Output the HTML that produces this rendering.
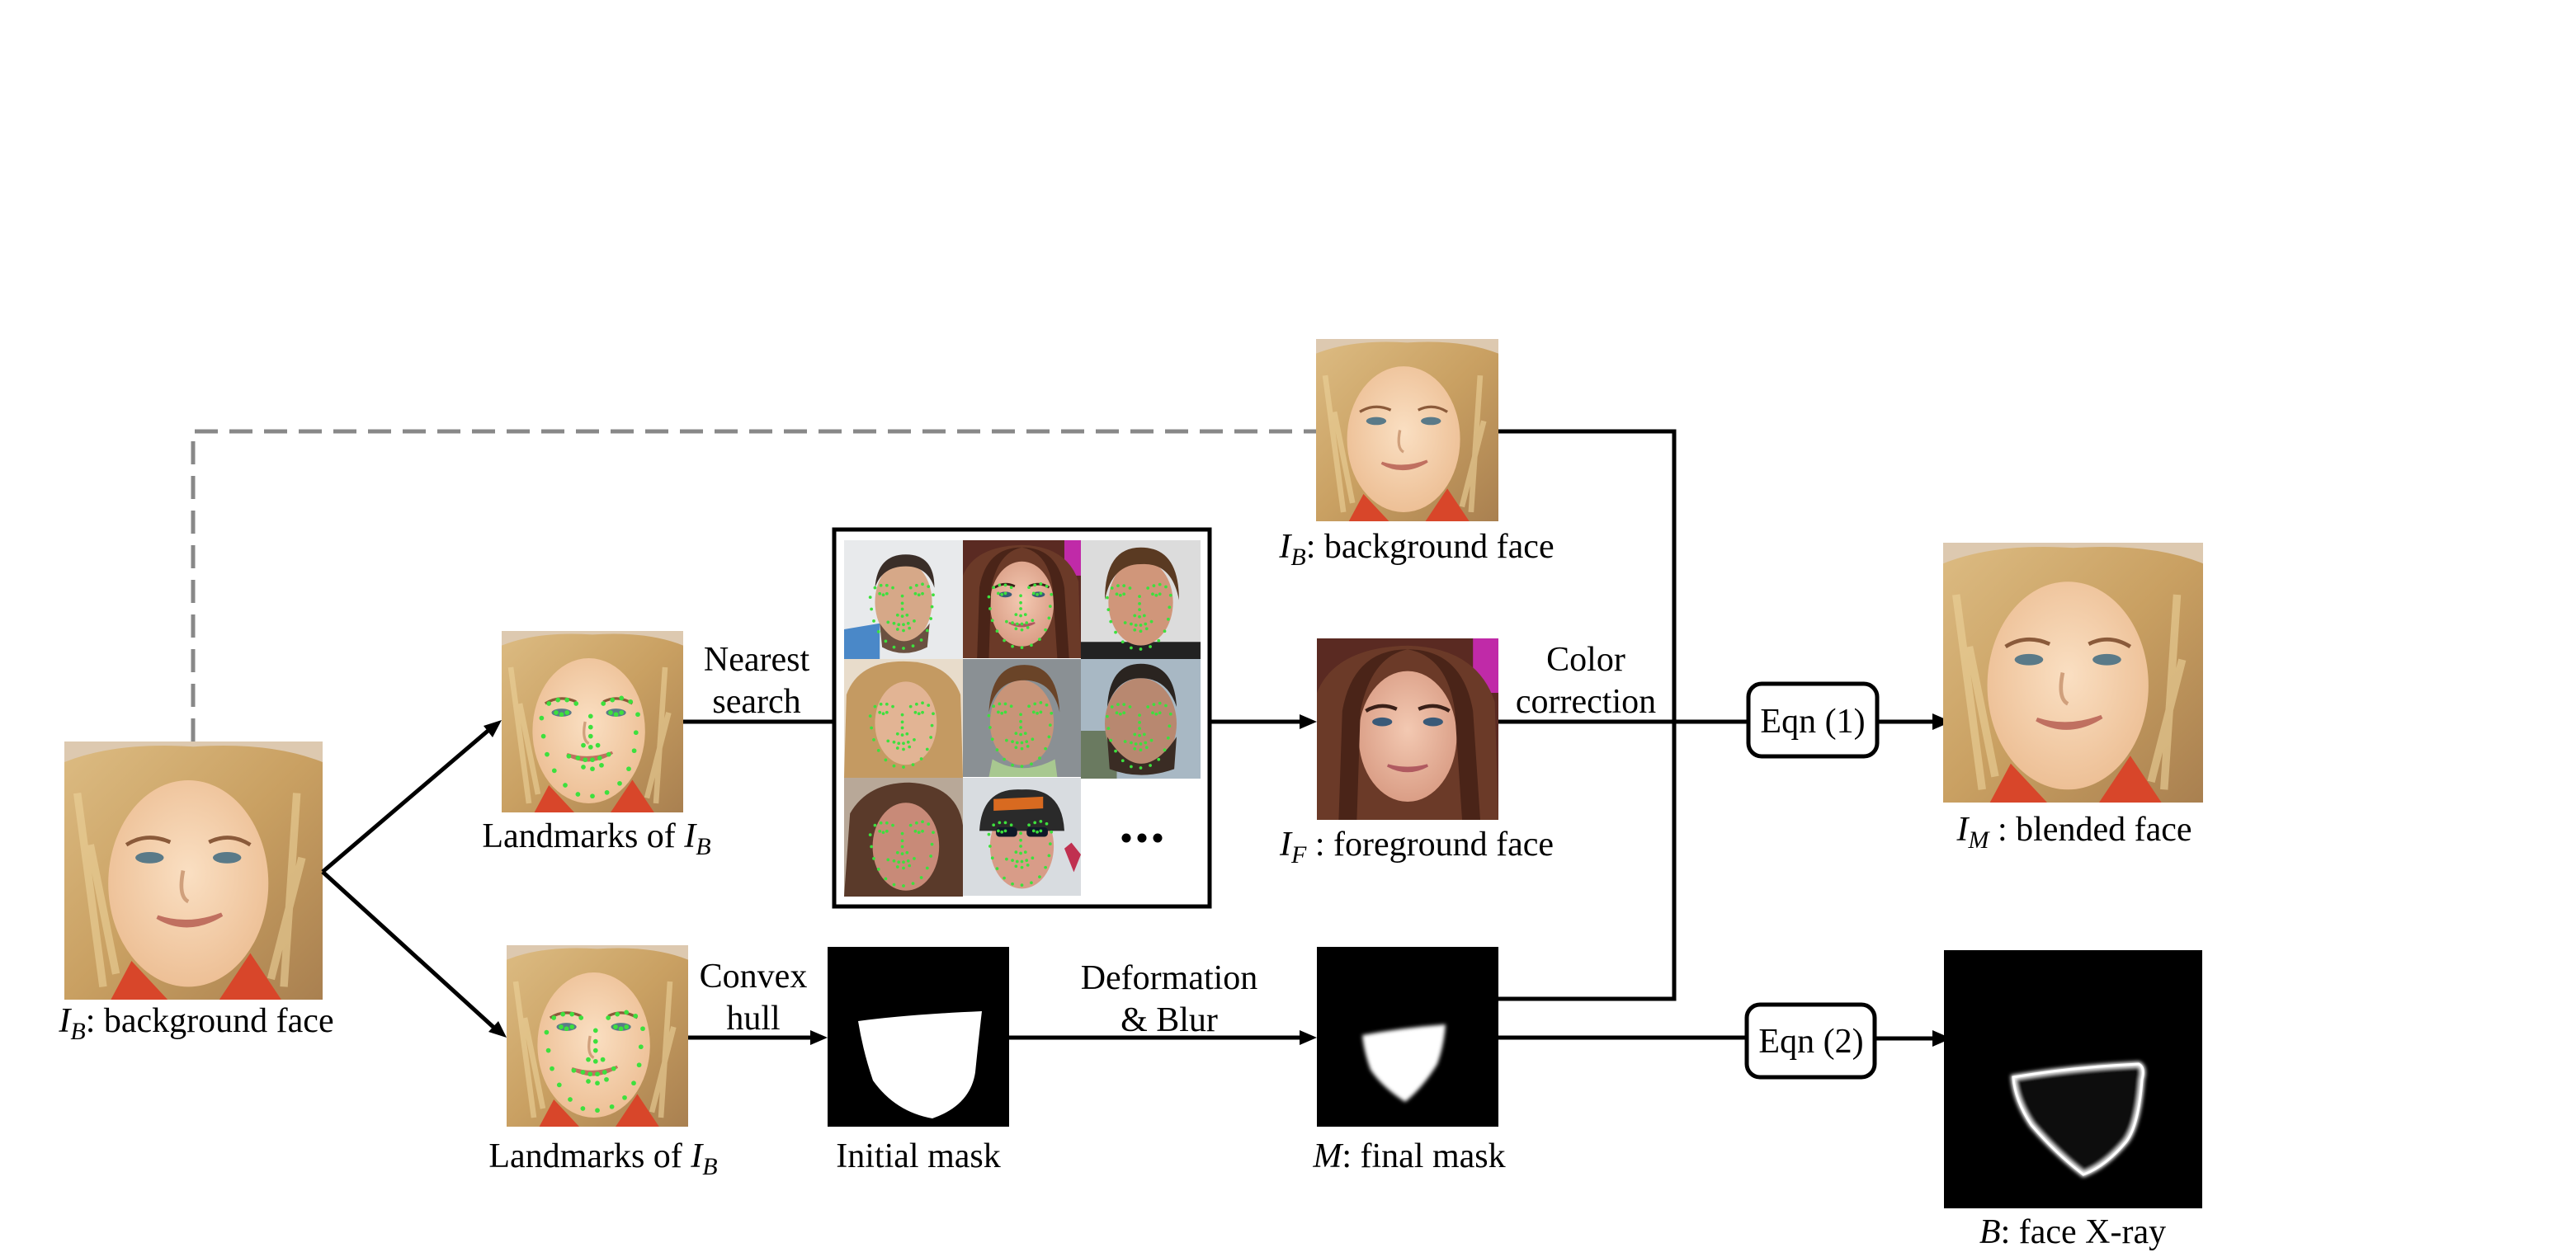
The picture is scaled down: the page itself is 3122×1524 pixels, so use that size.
<!DOCTYPE html>
<html><head><meta charset="utf-8"><style>
html,body{margin:0;padding:0;background:#fff;}
svg{display:block;}
svg text{font-family:"Liberation Serif","Times New Roman",serif !important;fill:#000;}
</style></head><body>
<svg width="3122" height="1524" viewBox="0 0 3122 1524" xmlns="http://www.w3.org/2000/svg" font-family="Liberation Serif, serif">
<defs>
<linearGradient id="hairB" x1="0" y1="0" x2="1" y2="1">
<stop offset="0" stop-color="#dcbb82"/><stop offset="0.5" stop-color="#c9a062"/><stop offset="1" stop-color="#a98050"/></linearGradient>
<radialGradient id="skinB" cx="0.5" cy="0.45" r="0.6"><stop offset="0" stop-color="#fadfc2"/><stop offset="1" stop-color="#ecbd92"/></radialGradient>
<radialGradient id="skinF" cx="0.5" cy="0.45" r="0.6"><stop offset="0" stop-color="#f3c9b2"/><stop offset="1" stop-color="#d89a82"/></radialGradient>
<filter id="blur3"><feGaussianBlur stdDeviation="2.5"/></filter>
<g id="faceB">
<rect width="100" height="100" fill="#ddc9b0"/>
<path d="M0 8 Q20 0 50 2 Q80 0 100 8 L100 100 L0 100 Z" fill="url(#hairB)"/>
<path d="M5 20 L15 95 M90 20 L85 95 M10 40 L20 90 M92 45 L80 92" stroke="#ecd29a" stroke-width="3" opacity="0.6"/>
<ellipse cx="48" cy="55" rx="31" ry="40" fill="url(#skinB)"/>
<path d="M18 100 L26 85 L40 100 Z M60 100 L72 82 L84 100 Z" fill="#d8462a"/>
<path d="M24 40 Q32 35 41 39 M56 39 Q64 35 72 40" stroke="#8a5a3a" stroke-width="1.5" fill="none"/>
<ellipse cx="33" cy="45" rx="5.5" ry="2.2" fill="#5a7a88"/>
<ellipse cx="63" cy="45" rx="5.5" ry="2.2" fill="#5a7a88"/>
<path d="M36 68 Q48 75 61 67 Q48 72 36 68Z" fill="#d88878" stroke="#c07060" stroke-width="1.5"/>
<path d="M46 50 Q44 60 48 62" stroke="#d0a07c" stroke-width="1.5" fill="none"/>
</g>
<g id="dots" fill="#3de03d">
<circle cx="22" cy="48" r="1.3"/><circle cx="23" cy="58" r="1.3"/><circle cx="25" cy="68" r="1.3"/><circle cx="29" cy="77" r="1.3"/><circle cx="35" cy="85" r="1.3"/><circle cx="42" cy="90" r="1.3"/><circle cx="50" cy="91" r="1.3"/><circle cx="58" cy="89" r="1.3"/><circle cx="65" cy="84" r="1.3"/><circle cx="70" cy="76" r="1.3"/><circle cx="73" cy="66" r="1.3"/><circle cx="74" cy="56" r="1.3"/><circle cx="75" cy="46" r="1.3"/>
<circle cx="26" cy="40" r="1.3"/><circle cx="31" cy="38" r="1.3"/><circle cx="36" cy="38" r="1.3"/><circle cx="41" cy="40" r="1.3"/><circle cx="56" cy="40" r="1.3"/><circle cx="61" cy="38" r="1.3"/><circle cx="66" cy="37" r="1.3"/><circle cx="71" cy="39" r="1.3"/>
<circle cx="30" cy="45" r="1.3"/><circle cx="33" cy="46" r="1.3"/><circle cx="36" cy="45" r="1.3"/><circle cx="60" cy="45" r="1.3"/><circle cx="63" cy="46" r="1.3"/><circle cx="66" cy="45" r="1.3"/>
<circle cx="49" cy="47" r="1.3"/><circle cx="49" cy="53" r="1.3"/><circle cx="49" cy="58" r="1.3"/><circle cx="45" cy="63" r="1.3"/><circle cx="49" cy="64" r="1.3"/><circle cx="53" cy="63" r="1.3"/>
<circle cx="37" cy="69" r="1.3"/><circle cx="42" cy="70" r="1.3"/><circle cx="46" cy="71" r="1.3"/><circle cx="50" cy="71" r="1.3"/><circle cx="54" cy="70" r="1.3"/><circle cx="59" cy="68" r="1.3"/><circle cx="45" cy="75" r="1.3"/><circle cx="50" cy="76" r="1.3"/><circle cx="55" cy="74" r="1.3"/>
</g>
<g id="faceF">
<rect width="100" height="100" fill="#5a2a22"/>
<rect x="86" y="0" width="14" height="30" fill="#c02aa8"/>
<path d="M0 100 L0 30 Q10 5 50 4 Q88 5 98 35 L100 100 Z" fill="#6b3a28"/>
<ellipse cx="50" cy="54" rx="27" ry="36" fill="url(#skinF)"/>
<path d="M50 6 Q30 10 24 40 L22 100 L12 100 L14 40 Q20 6 50 6Z" fill="#4a2418"/>
<path d="M50 6 Q72 10 76 40 L80 100 L90 100 L86 40 Q80 6 50 6Z" fill="#4a2418"/>
<path d="M27 40 Q35 35 44 39 M56 39 Q65 35 73 40" stroke="#3a2018" stroke-width="2" fill="none"/>
<ellipse cx="36" cy="46" rx="5.5" ry="2.4" fill="#3a5a78"/>
<ellipse cx="64" cy="46" rx="5.5" ry="2.4" fill="#3a5a78"/>
<path d="M39 70 Q50 76 61 70 Q50 73 39 70Z" fill="#c06a70" stroke="#b05a60" stroke-width="1.5"/>
</g>
</defs>

<path d="M234 899 L234 523 L1595 523" fill="none" stroke="#888" stroke-width="5" stroke-dasharray="28,14"/>

<use href="#faceB" transform="translate(78,899) scale(3.13)"/>
<text x="238" y="1251" font-size="42" text-anchor="middle"><tspan font-style="italic">I</tspan><tspan font-style="italic" font-size="30" dy="9">B</tspan><tspan dy="-9">: background face</tspan></text>

<g stroke="#000" stroke-width="5" fill="none">
<line x1="391" y1="1057" x2="596" y2="882"/>
<line x1="391" y1="1057" x2="601" y2="1248"/>
</g>
<polygon points="608,873 586,880 597,894" fill="#000"/>
<polygon points="614,1258 592,1251 604,1238" fill="#000"/>

<g transform="translate(608,765) scale(2.2)"><use href="#faceB"/><use href="#dots"/></g>
<text x="723" y="1027" font-size="42" text-anchor="middle">Landmarks of <tspan font-style="italic">I</tspan><tspan font-style="italic" font-size="30" dy="9">B</tspan></text>
<g transform="translate(614,1146) scale(2.2)"><use href="#faceB"/><use href="#dots"/></g>
<text x="731" y="1415" font-size="42" text-anchor="middle">Landmarks of <tspan font-style="italic">I</tspan><tspan font-style="italic" font-size="30" dy="9">B</tspan></text>

<text x="917" y="813" font-size="42" text-anchor="middle">Nearest</text>
<text x="917" y="864" font-size="42" text-anchor="middle">search</text>
<line x1="828" y1="875" x2="1010" y2="875" stroke="#000" stroke-width="5"/>
<text x="913" y="1197" font-size="42" text-anchor="middle">Convex</text>
<text x="913" y="1248" font-size="42" text-anchor="middle">hull</text>
<line x1="834" y1="1258" x2="985" y2="1258" stroke="#000" stroke-width="5"/>
<polygon points="1003,1258 982,1249 982,1267" fill="#000"/>

<rect x="1011" y="642" width="455" height="457" fill="#fff" stroke="#000" stroke-width="5"/>
<g>
<g transform="translate(1023,655) scale(1.44)"><rect width="100" height="100" fill="#e8eaec"/><path d="M0 75 L30 70 L30 100 L0 100Z" fill="#4a88c8"/><ellipse cx="50" cy="52" rx="24" ry="34" fill="#d6a888"/><path d="M26 40 Q28 12 52 12 Q76 12 76 40 Q70 22 52 22 Q32 22 26 40Z" fill="#3a2e28"/><path d="M30 70 Q50 100 72 70 L70 90 Q50 100 32 90Z" fill="#6a5040"/><use href="#dots"/></g>
<g transform="translate(1167,655) scale(1.43)"><use href="#faceF"/><use href="#dots"/></g>
<g transform="translate(1310,655) scale(1.45)"><rect width="100" height="100" fill="#dcdcdc"/><rect x="0" y="85" width="100" height="15" fill="#222"/><ellipse cx="50" cy="52" rx="27" ry="36" fill="#d0967a"/><path d="M20 50 Q20 6 50 6 Q82 6 82 50 Q76 18 50 20 Q26 20 20 50Z" fill="#5a3a22"/><use href="#dots"/></g>
<g transform="translate(1023,799) scale(1.44)"><rect width="100" height="100" fill="#e8dccb"/><path d="M0 100 L2 30 Q12 2 50 2 Q88 2 98 30 L100 100Z" fill="#c49a62"/><ellipse cx="52" cy="54" rx="26" ry="35" fill="#e2b494"/><use href="#dots"/></g>
<g transform="translate(1167,799) scale(1.43)"><rect width="100" height="100" fill="#8a9094"/><ellipse cx="50" cy="54" rx="27" ry="36" fill="#c89478"/><path d="M22 45 Q24 5 52 5 Q80 5 82 45 Q76 18 52 18 Q28 18 22 45Z" fill="#6a4428"/><path d="M25 85 Q50 100 78 85 L80 100 L22 100Z" fill="#a8c890"/><use href="#dots"/></g>
<g transform="translate(1310,799) scale(1.45)"><rect width="100" height="100" fill="#a8b8c4"/><rect x="0" y="60" width="30" height="40" fill="#6a7a60"/><ellipse cx="50" cy="54" rx="30" ry="38" fill="#b88870"/><path d="M22 40 Q24 4 50 4 Q78 4 80 40 Q72 16 50 16 Q30 16 22 40Z" fill="#2a2420"/><path d="M22 65 Q50 110 80 65 L78 92 Q50 102 24 92Z" fill="#3a2c24"/><use href="#dots"/></g>
<g transform="translate(1023,943) scale(1.44)"><rect width="100" height="100" fill="#b8a898"/><path d="M0 100 L5 30 Q20 4 55 4 Q95 6 100 40 L100 100Z" fill="#5a3a2a"/><ellipse cx="52" cy="58" rx="28" ry="37" fill="#c88a78"/><use href="#dots"/></g>
<g transform="translate(1167,943) scale(1.43)"><rect width="100" height="100" fill="#d8dce0"/><ellipse cx="50" cy="58" rx="27" ry="36" fill="#d89c88"/><path d="M14 45 Q16 8 50 10 Q84 8 86 45 Z" fill="#2a2a2a"/><path d="M26 18 L68 16 L68 26 L26 28Z" fill="#d86a20"/><rect x="28" y="42" width="18" height="8" rx="3" fill="#101828"/><rect x="54" y="42" width="18" height="8" rx="3" fill="#101828"/><path d="M86 60 L92 55 L100 65 L94 80Z" fill="#c03050"/><use href="#dots"/></g>
</g>
<circle cx="1365" cy="1016" r="5.5" fill="#000"/><circle cx="1384" cy="1016" r="5.5" fill="#000"/><circle cx="1403" cy="1016" r="5.5" fill="#000"/>

<line x1="1466" y1="875" x2="1578" y2="875" stroke="#000" stroke-width="5"/>
<polygon points="1596,875 1575,866 1575,884" fill="#000"/>

<rect x="1003" y="1148" width="220" height="218" fill="#000"/>
<path d="M1040 1238 Q1100 1230 1190 1226 Q1186 1260 1182 1300 Q1176 1340 1130 1356 Q1085 1348 1058 1310 Q1046 1275 1040 1238Z" fill="#fff"/>
<text x="1113" y="1415" font-size="42" text-anchor="middle">Initial mask</text>

<text x="1417" y="1199" font-size="42" text-anchor="middle">Deformation</text>
<text x="1417" y="1250" font-size="42" text-anchor="middle">&amp; Blur</text>
<line x1="1223" y1="1258" x2="1578" y2="1258" stroke="#000" stroke-width="5"/>
<polygon points="1596,1258 1575,1249 1575,1267" fill="#000"/>

<use href="#faceB" transform="translate(1595,411) scale(2.21)"/>
<text x="1717" y="676" font-size="42" text-anchor="middle"><tspan font-style="italic">I</tspan><tspan font-style="italic" font-size="30" dy="9">B</tspan><tspan dy="-9">: background face</tspan></text>

<use href="#faceF" transform="translate(1596,774) scale(2.2)"/>
<text x="1717" y="1037" font-size="42" text-anchor="middle"><tspan font-style="italic">I</tspan><tspan font-style="italic" font-size="30" dy="9">F</tspan><tspan dy="-9"> : foreground face</tspan></text>

<rect x="1596" y="1148" width="220" height="218" fill="#000"/>
<path d="M1651 1255 Q1700 1246 1752 1242 Q1750 1268 1742 1290 Q1725 1318 1703 1336 Q1675 1318 1661 1297 Q1653 1275 1651 1255Z" fill="#fff" filter="url(#blur3)"/>
<text x="1708" y="1415" font-size="42" text-anchor="middle"><tspan font-style="italic">M</tspan>: final mask</text>

<text x="1922" y="813" font-size="42" text-anchor="middle">Color</text>
<text x="1922" y="864" font-size="42" text-anchor="middle">correction</text>

<g stroke="#000" stroke-width="5" fill="none">
<path d="M1816 523 L2029 523 L2029 1211 L1816 1211"/>
<line x1="1816" y1="875" x2="2119" y2="875"/>
<line x1="1816" y1="1258" x2="2117" y2="1258"/>
<rect x="2119" y="829" width="156" height="88" rx="16"/>
<rect x="2117" y="1218" width="155" height="88" rx="16"/>
<line x1="2275" y1="875" x2="2345" y2="875"/>
<line x1="2272" y1="1259" x2="2345" y2="1259"/>
</g>
<polygon points="2365,875 2342,865 2342,885" fill="#000"/>
<polygon points="2365,1259 2342,1249 2342,1269" fill="#000"/>
<text x="2197" y="888" font-size="42" text-anchor="middle">Eqn (1)</text>
<text x="2195" y="1276" font-size="42" text-anchor="middle">Eqn (2)</text>

<use href="#faceB" transform="translate(2355,658) scale(3.15)"/>
<text x="2514" y="1019" font-size="42" text-anchor="middle"><tspan font-style="italic">I</tspan><tspan font-style="italic" font-size="30" dy="9">M</tspan><tspan dy="-9"> : blended face</tspan></text>

<rect x="2356" y="1152" width="313" height="313" fill="#000"/>
<path d="M2440 1306 Q2510 1294 2592 1290 Q2600 1294 2596 1309 Q2592 1364 2577 1384 Q2552 1414 2525 1424 Q2492 1399 2462 1364 Q2442 1334 2440 1306Z" fill="#0c0c0c" stroke="#fff" stroke-width="6" filter="url(#blur3)"/>
<path d="M2440 1306 Q2510 1294 2592 1290 Q2600 1294 2596 1309 Q2592 1364 2577 1384 Q2552 1414 2525 1424 Q2492 1399 2462 1364 Q2442 1334 2440 1306Z" fill="none" stroke="#fff" stroke-width="3"/>
<text x="2512" y="1507" font-size="42" text-anchor="middle"><tspan font-style="italic">B</tspan>: face X-ray</text>
</svg>
</body></html>
